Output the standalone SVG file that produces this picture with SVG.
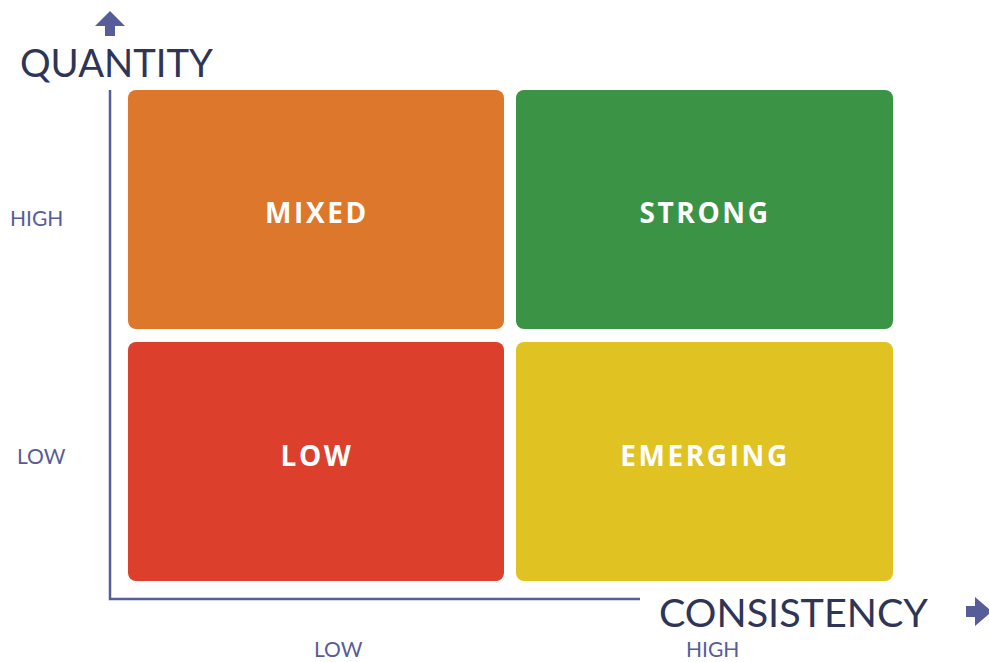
<svg xmlns="http://www.w3.org/2000/svg" width="989" height="662" viewBox="0 0 989 662">
  <style>
    .cell-label { font-family: "Open Sans", "Liberation Sans", sans-serif; font-weight: 700; font-size: 28px; fill: #ffffff; letter-spacing: 2.6px; text-anchor: middle; }
    .axis-title { font-family: "Lato", "Liberation Sans", sans-serif; font-size: 38px; fill: #2e3556; }
    .tick { font-family: "Lato", "Liberation Sans", sans-serif; font-size: 21px; fill: #575d98; }
    .axis { stroke: #575d98; stroke-width: 2.5; fill: none; }
    .arrow { fill: #575d98; }
  </style>

  <!-- axes -->
  <g id="axes">
    <path class="axis" d="M110,90 V599 H640"/>
    <!-- up arrow -->
    <path class="arrow" d="M110,11 L125,26 L115,26 L115,36 L105,36 L105,26 L95,26 Z"/>
    <!-- right arrow -->
    <path class="arrow" d="M966,606 L975,606 L975,597 L992,611.5 L975,626 L975,617 L966,617 Z"/>
  </g>

  <!-- axis titles and ticks -->
  <text class="axis-title" x="20" y="77" textLength="193" lengthAdjust="spacingAndGlyphs">QUANTITY</text>
  <text class="axis-title" x="659" y="627" textLength="269" lengthAdjust="spacingAndGlyphs">CONSISTENCY</text>
  <text class="tick" x="10" y="226">HIGH</text>
  <text class="tick" x="17" y="464">LOW</text>
  <text class="tick" x="314" y="657">LOW</text>
  <text class="tick" x="686" y="657">HIGH</text>

  <!-- quadrants -->
  <g id="mixed">
    <rect x="128" y="90" width="376" height="239" rx="8" fill="#dc772c"/>
    <text class="cell-label" x="317" y="223">MIXED</text>
  </g>
  <g id="strong">
    <rect x="516" y="90" width="377" height="239" rx="8" fill="#3b9446"/>
    <text class="cell-label" x="705" y="223">STRONG</text>
  </g>
  <g id="low">
    <rect x="128" y="342" width="376" height="239" rx="8" fill="#dc402d"/>
    <text class="cell-label" x="317" y="466">LOW</text>
  </g>
  <g id="emerging">
    <rect x="516" y="342" width="377" height="239" rx="8" fill="#e0c322"/>
    <text class="cell-label" x="705" y="466">EMERGING</text>
  </g>
</svg>
